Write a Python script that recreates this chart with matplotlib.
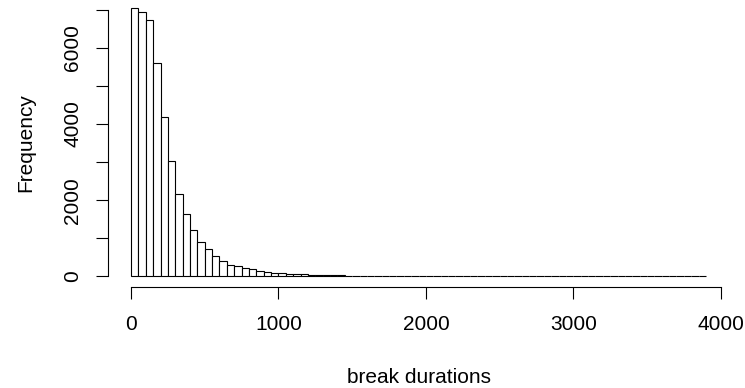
import matplotlib
matplotlib.use("Agg")
import matplotlib.pyplot as plt
import numpy as np

plt.rcParams['font.family'] = ['Liberation Sans', 'DejaVu Sans']

# histogram of break durations, 50-unit bins from 0 to 3900
bin_width = 50
counts = [7035, 6946, 6720, 5590, 4187, 3040, 2155, 1630, 1226, 894,
          718, 543, 412, 306, 263, 219, 184, 149, 114, 96,
          80, 68, 57, 48, 41, 35, 29, 25, 21, 18,
          15, 13, 11, 9, 8, 7, 6, 5, 5, 4,
          4, 3, 3, 3, 2, 2, 2, 2, 2, 1,
          1, 1, 1, 1, 1, 1, 1, 1, 1, 1,
          1, 1, 1, 1, 1, 1, 1, 1, 1, 1,
          1, 1, 1, 1, 1, 1, 1, 1]
edges = np.arange(len(counts) + 1) * bin_width
xticks = [0, 1000, 2000, 3000, 4000]
yticks = [0, 1000, 2000, 3000, 4000, 5000, 6000, 7000]
ylabels = ['0', '', '2000', '', '4000', '', '6000', '']

fig = plt.figure(figsize=(7.45, 3.88), dpi=100)
ax = fig.add_axes([0.145, 0.2603, 0.8335, 0.7457])

ax.bar(edges[:-1], counts, width=bin_width, align='edge',
       facecolor='white', edgecolor='black', linewidth=0.8)

# R-style 4% padding around the data range
xr = edges[-1] - edges[0]
ax.set_xlim(edges[0] - 0.04 * xr, edges[-1] + 0.04 * xr)
ymax = max(counts)
ax.set_ylim(-0.04 * ymax, 1.04 * ymax)

for side in ['top', 'right']:
    ax.spines[side].set_visible(False)
ax.spines['left'].set_bounds(0, 7000)
ax.spines['bottom'].set_bounds(0, 4000)
ax.spines['left'].set_linewidth(0.8)
ax.spines['bottom'].set_linewidth(0.8)

ax.set_xticks(xticks)
ax.set_xticklabels([str(t) for t in xticks])
ax.set_yticks(yticks)
ax.set_yticklabels(ylabels, rotation=90, va='center')
ax.tick_params(axis='both', length=8.5, width=0.8, labelsize=15)
ax.tick_params(axis='x', pad=12)
ax.tick_params(axis='y', pad=10)

ax.set_xlabel('break durations', fontsize=15, labelpad=24)
ax.set_ylabel('Frequency', fontsize=15, labelpad=20)

fig.savefig('out.png', dpi=100)
